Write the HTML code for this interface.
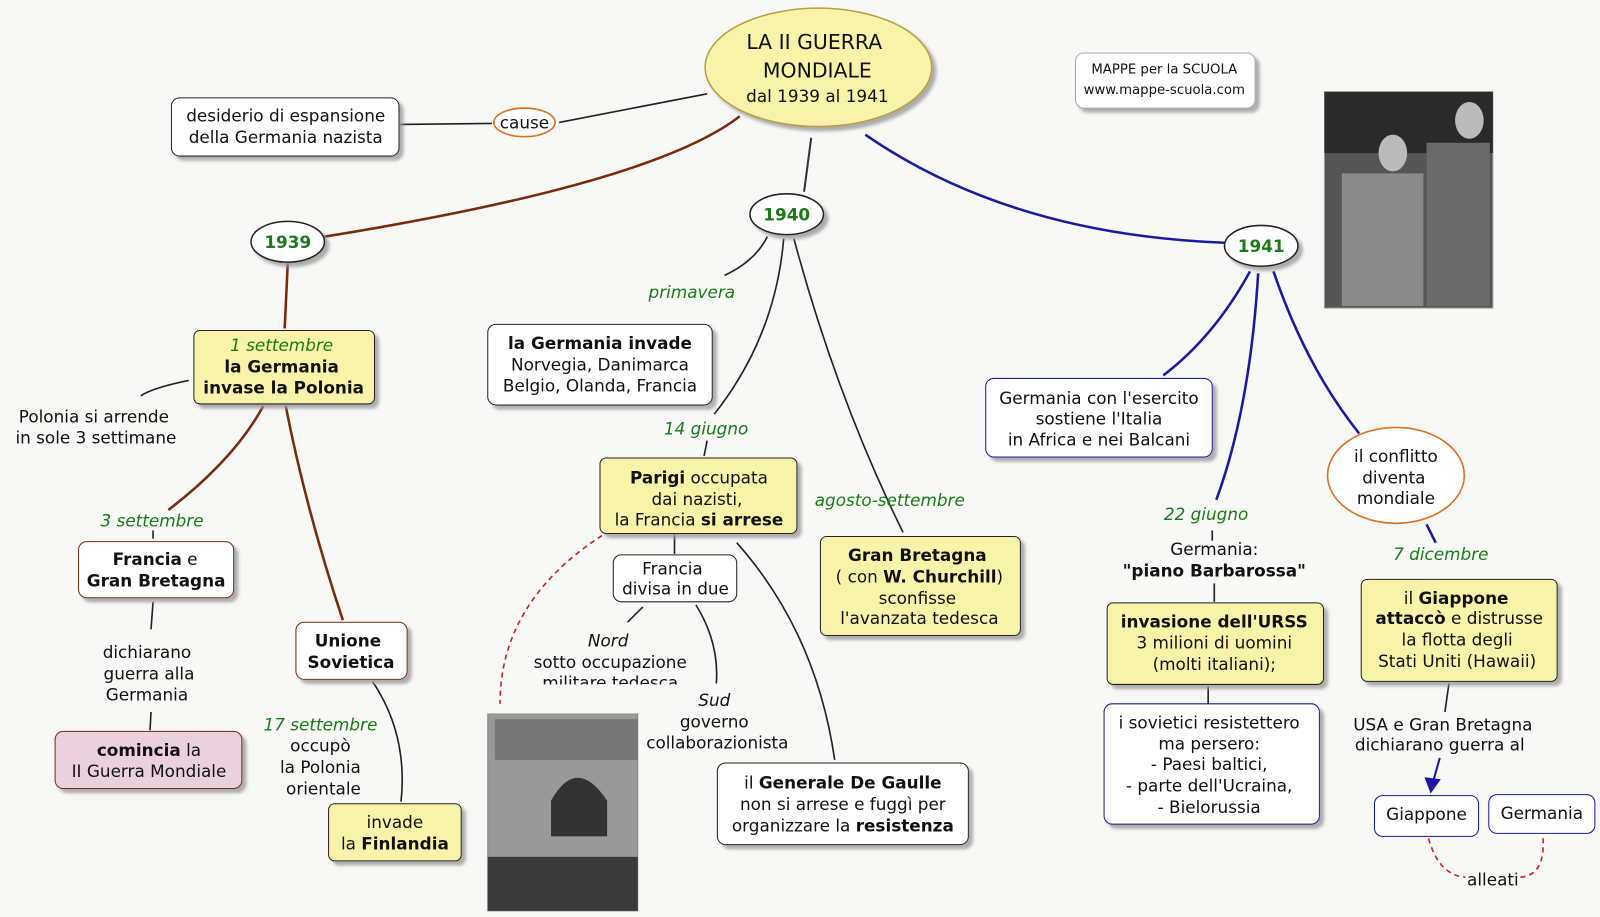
<!DOCTYPE html>
<html><head><meta charset="utf-8"><style>
html,body{margin:0;padding:0;background:#f8f8f6;}
svg{display:block;}
text{font-family:"DejaVu Sans","Liberation Sans",sans-serif;font-size:16.5px;fill:#111;}
.g{fill:#1a7a1a;font-style:italic;}
.b{font-weight:bold;}
</style></head><body>
<svg width="1600" height="917" viewBox="0 0 1568 899" preserveAspectRatio="none" xmlns="http://www.w3.org/2000/svg">
<defs>
<filter id="sh" x="-10%" y="-10%" width="130%" height="140%"><feDropShadow dx="4" dy="4" stdDeviation="1.5" flood-color="#999" flood-opacity="0.8"/></filter>
</defs>
<rect width="1568" height="899" fill="#f8f8f6"/>

<g fill="none" stroke-width="2.5">
<path d="M725 114 Q640 180 318 232" stroke="#7a2a0a"/>
<path d="M848 132 Q990 230 1200 238" stroke="#1a1aa0"/>
<path d="M795 135 L788 188" stroke="#333" stroke-width="2"/>
<path d="M282 258 L279 322" stroke="#7a2a0a"/>
<path d="M258 398 Q230 450 165 500" stroke="#7a2a0a"/>
<path d="M280 398 Q300 500 336 608" stroke="#7a2a0a"/>
<path d="M1225 266 Q1190 330 1140 368" stroke="#1a1aa0"/>
<path d="M1233 268 Q1225 400 1192 490" stroke="#1a1aa0"/>
<path d="M1248 266 Q1280 360 1332 425" stroke="#1a1aa0"/>
<path d="M1398 514 L1407 532" stroke="#1a1aa0"/>
</g>
<g fill="none" stroke="#222" stroke-width="1.6">
<path d="M548 120 L693 92"/>
<path d="M392 122 L482 121"/>
<path d="M752 232 Q740 256 710 270"/>
<path d="M768 234 Q760 330 700 406"/>
<path d="M778 234 Q820 390 885 522"/>
<path d="M693 432 L690 447"/>
<path d="M661 523 L661 543"/>
<path d="M722 532 Q800 620 818 745"/>
<path d="M630 595 L615 610"/>
<path d="M682 593 Q705 630 702 670"/>
<path d="M185 373 Q150 380 138 388"/>
<path d="M150 590 L148 617"/>
<path d="M148 698 L147 716"/>
<path d="M150 520 L150 528"/>
<path d="M365 668 Q400 720 393 786"/>
<path d="M1188 520 L1188 530"/>
<path d="M1190 572 L1190 590"/>
<path d="M1184 673 L1184 690"/>
<path d="M1420 670 L1416 698"/>
</g>
<path d="M1411 743 L1404 768" stroke="#1a1aa0" stroke-width="2" fill="none"/>
<polygon points="1396,762 1412,764 1402,778" fill="#1a1aa0"/>
<path d="M590 525 Q490 590 490 690" stroke="#d02020" stroke-width="1.6" stroke-dasharray="5,4" fill="none"/>
<path d="M1400 822 Q1410 858 1436 860 M1490 860 Q1515 858 1512 820" stroke="#d02020" stroke-width="1.6" stroke-dasharray="5,4" fill="none"/>

<ellipse cx="802" cy="66" rx="111" ry="58" fill="#f7f3a8" stroke="#b8a040" stroke-width="1.5" filter="url(#sh)"/>
<text x="798" y="48" text-anchor="middle" style="font-size:20px">LA II GUERRA</text>
<text x="801" y="76" text-anchor="middle" style="font-size:20px">MONDIALE</text>
<text x="801" y="100" text-anchor="middle">dal 1939 al 1941</text>

<rect x="1054" y="52" width="176" height="54" rx="8" fill="#fff" stroke="#aaa" filter="url(#sh)"/>
<text x="1141" y="72" text-anchor="middle" style="font-size:13px">MAPPE per la SCUOLA</text>
<text x="1141" y="92" text-anchor="middle" style="font-size:13px">www.mappe-scuola.com</text>

<rect x="1298" y="90" width="165" height="212" fill="#555" stroke="#999"/>
<rect x="1298" y="90" width="165" height="60" fill="#2a2a2a"/>
<ellipse cx="1365" cy="150" rx="14" ry="18" fill="#bbb"/>
<ellipse cx="1440" cy="118" rx="14" ry="18" fill="#bbb"/>
<rect x="1315" y="170" width="80" height="130" fill="#8a8a8a"/>
<rect x="1398" y="140" width="62" height="160" fill="#6a6a6a"/>

<rect x="478" y="700" width="147" height="193" fill="#999" stroke="#888"/>
<rect x="485" y="705" width="140" height="40" fill="#777"/>
<path d="M540 820 L540 785 Q565 740 595 785 L595 820 Z" fill="#333"/>
<rect x="478" y="840" width="147" height="53" fill="#3a3a3a"/>

<rect x="168" y="96" width="223" height="57" rx="8" fill="#fff" stroke="#222" filter="url(#sh)"/>
<text x="280" y="119" text-anchor="middle">desiderio di espansione</text>
<text x="280" y="140" text-anchor="middle">della Germania nazista</text>
<ellipse cx="514" cy="120" rx="30" ry="14" fill="#fff" stroke="#e07020" stroke-width="1.6"/>
<text x="514" y="126" text-anchor="middle">cause</text>

<ellipse cx="282" cy="237" rx="36" ry="20" fill="#fff" stroke="#222" stroke-width="1.5" filter="url(#sh)"/>
<text x="282" y="243" text-anchor="middle" class="b" style="fill:#1a7a1a">1939</text>
<ellipse cx="771" cy="210" rx="36" ry="20" fill="#fff" stroke="#222" stroke-width="1.5" filter="url(#sh)"/>
<text x="771" y="216" text-anchor="middle" class="b" style="fill:#1a7a1a">1940</text>
<ellipse cx="1236" cy="241" rx="36" ry="20" fill="#fff" stroke="#222" stroke-width="1.5" filter="url(#sh)"/>
<text x="1236" y="247" text-anchor="middle" class="b" style="fill:#1a7a1a">1941</text>

<rect x="190" y="324" width="177" height="72" rx="6" fill="#f7f3a8" stroke="#222" filter="url(#sh)"/>
<text x="276" y="344" text-anchor="middle" class="g">1 settembre</text>
<text x="276" y="365" text-anchor="middle" class="b">la Germania</text>
<text x="278" y="386" text-anchor="middle" class="b">invase la Polonia</text>

<text x="92" y="414" text-anchor="middle">Polonia si arrende</text>
<text x="94" y="435" text-anchor="middle">in sole 3 settimane</text>
<text x="149" y="516" text-anchor="middle" class="g">3 settembre</text>

<rect x="77" y="531" width="152" height="55" rx="8" fill="#fff" stroke="#7a2a0a" filter="url(#sh)"/>
<text x="152" y="554" text-anchor="middle"><tspan class="b">Francia</tspan> e</text>
<text x="153" y="575" text-anchor="middle" class="b">Gran Bretagna</text>
<text x="144" y="645" text-anchor="middle">dichiarano</text>
<text x="146" y="666" text-anchor="middle">guerra alla</text>
<text x="144" y="687" text-anchor="middle">Germania</text>
<rect x="54" y="717" width="183" height="56" rx="8" fill="#e9d2de" stroke="#7a2a0a" filter="url(#sh)"/>
<text x="146" y="741" text-anchor="middle"><tspan class="b">comincia</tspan> la</text>
<text x="146" y="762" text-anchor="middle">II Guerra Mondiale</text>

<rect x="290" y="610" width="109" height="56" rx="8" fill="#fff" stroke="#7a2a0a" filter="url(#sh)"/>
<text x="341" y="634" text-anchor="middle" class="b">Unione</text>
<text x="344" y="655" text-anchor="middle" class="b">Sovietica</text>
<text x="314" y="716" text-anchor="middle" class="g">17 settembre</text>
<text x="314" y="737" text-anchor="middle">occupò</text>
<text x="314" y="758" text-anchor="middle">la Polonia</text>
<text x="317" y="779" text-anchor="middle">orientale</text>
<rect x="322" y="788" width="130" height="56" rx="6" fill="#f7f3a8" stroke="#222" filter="url(#sh)"/>
<text x="387" y="812" text-anchor="middle">invade</text>
<text x="387" y="833" text-anchor="middle">la <tspan class="b">Finlandia</tspan></text>

<text x="678" y="292" text-anchor="middle" class="g">primavera</text>
<rect x="478" y="318" width="220" height="79" rx="8" fill="#fff" stroke="#222" filter="url(#sh)"/>
<text x="588" y="342" text-anchor="middle" class="b">la Germania invade</text>
<text x="588" y="363" text-anchor="middle">Norvegia, Danimarca</text>
<text x="588" y="384" text-anchor="middle">Belgio, Olanda, Francia</text>
<text x="692" y="426" text-anchor="middle" class="g">14 giugno</text>
<rect x="588" y="449" width="193" height="74" rx="6" fill="#f7f3a8" stroke="#222" filter="url(#sh)"/>
<text x="685" y="474" text-anchor="middle"><tspan class="b">Parigi</tspan> occupata</text>
<text x="683" y="495" text-anchor="middle">dai nazisti,</text>
<text x="685" y="515" text-anchor="middle">la Francia <tspan class="b">si arrese</tspan></text>
<rect x="601" y="544" width="121" height="46" rx="8" fill="#fff" stroke="#222"/>
<text x="659" y="563" text-anchor="middle">Francia</text>
<text x="662" y="583" text-anchor="middle">divisa in due</text>
<text x="596" y="634" text-anchor="middle" style="font-style:italic">Nord</text>
<text x="598" y="655" text-anchor="middle">sotto occupazione</text>
<text x="598" y="675" text-anchor="middle">militare tedesca</text>
<rect x="515" y="671" width="170" height="10" fill="#f8f8f6"/>
<text x="700" y="692" text-anchor="middle" style="font-style:italic">Sud</text>
<text x="700" y="713" text-anchor="middle">governo</text>
<text x="703" y="734" text-anchor="middle">collaborazionista</text>
<rect x="703" y="748" width="246" height="80" rx="8" fill="#fff" stroke="#222" filter="url(#sh)"/>
<text x="826" y="773" text-anchor="middle">il <tspan class="b">Generale De Gaulle</tspan></text>
<text x="826" y="794" text-anchor="middle">non si arrese e fuggì per</text>
<text x="826" y="815" text-anchor="middle">organizzare la <tspan class="b">resistenza</tspan></text>
<text x="872" y="496" text-anchor="middle" class="g">agosto-settembre</text>
<rect x="804" y="526" width="196" height="97" rx="6" fill="#f7f3a8" stroke="#222" filter="url(#sh)"/>
<text x="899" y="550" text-anchor="middle" class="b">Gran Bretagna</text>
<text x="901" y="571" text-anchor="middle">( con <tspan class="b">W. Churchill</tspan>)</text>
<text x="899" y="592" text-anchor="middle">sconfisse</text>
<text x="901" y="612" text-anchor="middle">l'avanzata tedesca</text>

<rect x="966" y="371" width="222" height="77" rx="8" fill="#fff" stroke="#1a1aa0" filter="url(#sh)"/>
<text x="1077" y="396" text-anchor="middle">Germania con l'esercito</text>
<text x="1077" y="416" text-anchor="middle">sostiene l'Italia</text>
<text x="1077" y="437" text-anchor="middle">in Africa e nei Balcani</text>
<text x="1182" y="510" text-anchor="middle" class="g">22 giugno</text>
<text x="1190" y="544" text-anchor="middle">Germania:</text>
<text x="1190" y="565" text-anchor="middle" class="b">"piano Barbarossa"</text>
<rect x="1085" y="591" width="212" height="80" rx="6" fill="#f7f3a8" stroke="#222" filter="url(#sh)"/>
<text x="1190" y="615" text-anchor="middle" class="b">invasione dell'URSS</text>
<text x="1190" y="636" text-anchor="middle">3 milioni di uomini</text>
<text x="1190" y="657" text-anchor="middle">(molti italiani);</text>
<rect x="1082" y="690" width="211" height="118" rx="8" fill="#fff" stroke="#1a1aa0" filter="url(#sh)"/>
<text x="1185" y="714" text-anchor="middle">i sovietici resistettero</text>
<text x="1185" y="735" text-anchor="middle">ma persero:</text>
<text x="1185" y="755" text-anchor="middle">- Paesi baltici,</text>
<text x="1185" y="776" text-anchor="middle">- parte dell'Ucraina,</text>
<text x="1185" y="797" text-anchor="middle">- Bielorussia</text>

<ellipse cx="1368" cy="466" rx="67" ry="47" fill="#fff" stroke="#e07020" stroke-width="1.6"/>
<text x="1368" y="453" text-anchor="middle">il conflitto</text>
<text x="1366" y="474" text-anchor="middle">diventa</text>
<text x="1368" y="494" text-anchor="middle">mondiale</text>
<text x="1412" y="549" text-anchor="middle" class="g">7 dicembre</text>
<rect x="1334" y="568" width="192" height="100" rx="6" fill="#f7f3a8" stroke="#222" filter="url(#sh)"/>
<text x="1427" y="592" text-anchor="middle">il <tspan class="b">Giappone</tspan></text>
<text x="1430" y="612" text-anchor="middle"><tspan class="b">attaccò</tspan> e distrusse</text>
<text x="1428" y="633" text-anchor="middle">la flotta degli</text>
<text x="1428" y="654" text-anchor="middle">Stati Uniti (Hawaii)</text>
<text x="1414" y="716" text-anchor="middle">USA e Gran Bretagna</text>
<text x="1411" y="736" text-anchor="middle">dichiarano guerra al</text>
<rect x="1347" y="780" width="102" height="40" rx="8" fill="#fff" stroke="#1a1aa0"/>
<text x="1398" y="804" text-anchor="middle">Giappone</text>
<rect x="1459" y="779" width="104" height="38" rx="8" fill="#fff" stroke="#1a1aa0"/>
<text x="1511" y="803" text-anchor="middle">Germania</text>
<text x="1463" y="868" text-anchor="middle">alleati</text>
</svg>
</body></html>
